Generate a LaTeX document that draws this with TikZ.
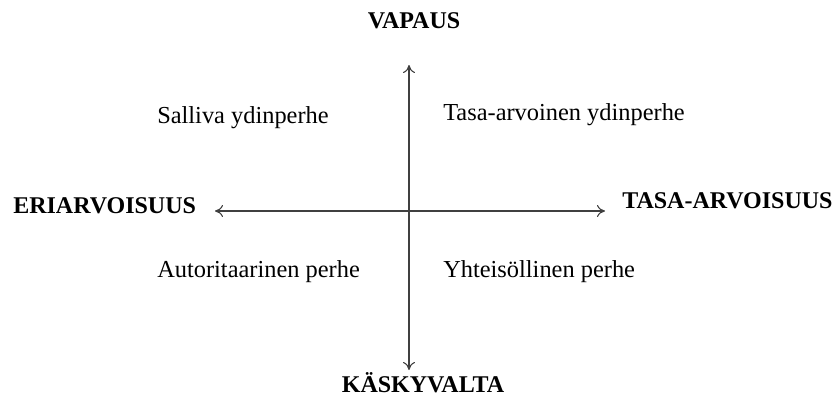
\documentclass[tikz,border=0pt]{standalone}
\usepackage{fontspec}
\setmainfont{Liberation Serif}
\usetikzlibrary{arrows.meta}
\begin{document}
\begin{tikzpicture}[x=0.75pt,y=-0.75pt,
  axis/.style={draw=black!75,line width=0.8pt,{To[length=6pt,width=9pt]}-{To[length=6pt,width=9pt]}},
  pole/.style={font=\fontsize{18}{20}\selectfont\bfseries,inner sep=0pt},
  quad/.style={font=\fontsize{18.3}{22}\selectfont,inner sep=0pt,anchor=west}]
\useasboundingbox (0,0) rectangle (834,397);
\coordinate (top) at (409,65);
\coordinate (bot) at (409,370);
\coordinate (lft) at (215,211);
\coordinate (rgt) at (605,211);
\draw[axis] (bot) -- (top);
\draw[axis] (lft) -- (rgt);
\node[pole] (vap) at (414,21) {VAPAUS};
\node[pole] (kas) at (423,383) {KÄSKYVALTA};
\node[pole,anchor=west] (eri) at (13,206) {ERIARVOISUUS};
\node[pole,anchor=west] (tas) at (622,201) {TASA-ARVOISUUS};
\node[quad] (q1) at (157,118) {Salliva ydinperhe};
\node[quad] (q2) at (443,115) {Tasa-arvoinen ydinperhe};
\node[quad] (q3) at (157,272) {Autoritaarinen perhe};
\node[quad] (q4) at (443,272) {Yhteisöllinen perhe};
\end{tikzpicture}
\end{document}
